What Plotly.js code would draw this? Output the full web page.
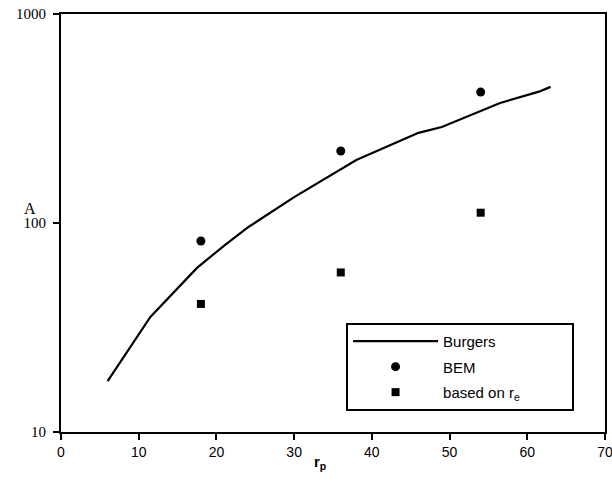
<!DOCTYPE html>
<html>
<head>
<meta charset="utf-8">
<script src="https://cdn.plot.ly/plotly-3.0.1.min.js"></script>
<style>html,body{margin:0;padding:0;background:#fff;}#chart{width:612px;height:494px;}</style>
</head>
<body>
<div id="chart"></div>
<script>
// Burgers curve
const burgersX = [6, 11.5, 17.5, 21, 24, 30, 38, 46, 49, 56.5, 61.5, 63];
const burgersY = [17.5, 35.5, 61, 78, 95, 133, 200, 270, 288, 375, 425, 448];
// BEM points
const bemX = [18, 36, 54];
const bemY = [82, 221, 423];
// based on r_e points
const reX = [18, 36, 54];
const reY = [41, 58, 112];
const xTicks = [0, 10, 20, 30, 40, 50, 60, 70];
const yTicks = [10, 100, 1000];
const pad = '\u00A0'.repeat(17);

const traces = [
  {x: burgersX, y: burgersY, mode: 'lines', name: 'Burgers' + pad, legendgroup: 'g1',
   line: {color: '#000', width: 2.2}},
  {x: bemX, y: bemY, mode: 'markers', name: 'BEM', legendgroup: 'g2',
   marker: {symbol: 'circle', color: '#000', size: 9}},
  {x: reX, y: reY, mode: 'markers', name: 'based on r<sub>e</sub>', legendgroup: 'g3',
   marker: {symbol: 'square', color: '#000', size: 8}}
];

const layout = {
  width: 612, height: 494,
  margin: {l: 61, r: 7, t: 14, b: 62},
  paper_bgcolor: '#fff', plot_bgcolor: '#fff',
  showlegend: true,
  legend: {
    x: 0.524, y: 0.261, xanchor: 'left', yanchor: 'top',
    bgcolor: '#fff', bordercolor: '#000', borderwidth: 2,
    font: {family: 'Liberation Sans, Arial, sans-serif', size: 15, color: '#000'},
    itemwidth: 85, traceorder: 'grouped', tracegroupgap: 3
  },
  xaxis: {
    range: [0, 70], tickvals: xTicks, ticktext: xTicks.map(String),
    showgrid: false, zeroline: false,
    showline: true, linecolor: '#000', linewidth: 2, mirror: true,
    ticks: 'outside', ticklen: 6, tickwidth: 2, tickcolor: '#000',
    ticklabeloverflow: 'allow',
    tickfont: {family: 'Liberation Sans Narrow, Arial Narrow, Liberation Sans, sans-serif', size: 14, color: '#000'}
  },
  yaxis: {
    type: 'log', range: [1, 3], tickvals: yTicks, ticktext: yTicks.map(String),
    showgrid: false, zeroline: false,
    showline: true, linecolor: '#000', linewidth: 2, mirror: true,
    ticks: 'outside', ticklen: 6, tickwidth: 2, tickcolor: '#000',
    ticklabelstandoff: 4,
    tickfont: {family: 'Liberation Serif, Times New Roman, serif', size: 15, color: '#000'}
  },
  annotations: [
    {text: 'A', xref: 'paper', yref: 'paper', x: -0.057, y: 0.535,
     xanchor: 'center', yanchor: 'middle', showarrow: false,
     font: {family: 'Liberation Serif, Times New Roman, serif', size: 16, color: '#000'}},
    {text: '<b>r<sub>p</sub></b>', xref: 'paper', yref: 'paper', x: 0.476, y: -0.072,
     xanchor: 'center', yanchor: 'middle', showarrow: false,
     font: {family: 'Liberation Sans, Arial, sans-serif', size: 15, color: '#000'}}
  ]
};

Plotly.newPlot('chart', traces, layout, {displayModeBar: false, staticPlot: true});
</script>
</body>
</html>
